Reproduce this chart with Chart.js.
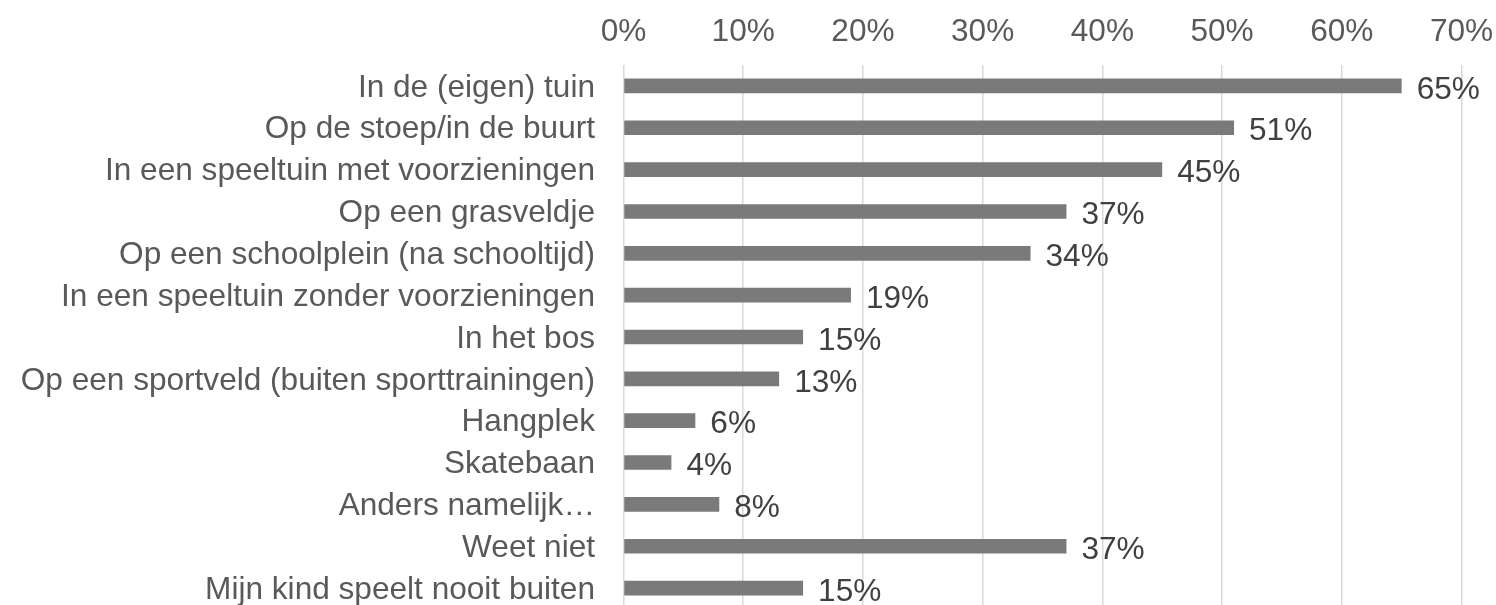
<!DOCTYPE html>
<html>
<head>
<meta charset="utf-8">
<script src="https://cdn.jsdelivr.net/npm/chart.js@4.4.1/dist/chart.umd.min.js"></script>
<style>
html,body{margin:0;padding:0;background:#fff;overflow:hidden;}
#wrap{position:relative;width:1496px;height:609px;}
</style>
</head>
<body>
<div id="wrap"><canvas id="c"></canvas></div>
<script>
const categories = [
  "In de (eigen) tuin",
  "Op de stoep/in de buurt",
  "In een speeltuin met voorzieningen",
  "Op een grasveldje",
  "Op een schoolplein (na schooltijd)",
  "In een speeltuin zonder voorzieningen",
  "In het bos",
  "Op een sportveld (buiten sporttrainingen)",
  "Hangplek",
  "Skatebaan",
  "Anders namelijk\u2026",
  "Weet niet",
  "Mijn kind speelt nooit buiten"
];
const values = [65, 51, 45, 37, 34, 19, 15, 13, 6, 4, 8, 37, 15];
const tickValues = [0, 10, 20, 30, 40, 50, 60, 70];

const FONT = "'Liberation Sans', Arial, sans-serif";
const FS = 31.6;

const dataLabels = {
  id: 'dataLabels',
  afterDatasetsDraw(chart) {
    const ctx = chart.ctx;
    const meta = chart.getDatasetMeta(0);
    ctx.save();
    ctx.font = FS + "px " + FONT;
    ctx.fillStyle = '#404040';
    ctx.textAlign = 'left';
    ctx.textBaseline = 'middle';
    meta.data.forEach((bar, i) => {
      ctx.fillText(values[i] + '%', bar.x + 15, bar.y + 4);
    });
    ctx.restore();
  }
};

new Chart(document.getElementById('c'), {
  type: 'bar',
  data: {
    labels: categories,
    datasets: [{
      data: values,
      backgroundColor: '#7a7a7a',
      borderWidth: 0,
      barPercentage: 0.35,
      categoryPercentage: 1
    }]
  },
  options: {
    indexAxis: 'y',
    responsive: true,
    maintainAspectRatio: false,
    animation: false,
    layout: { padding: { left: 0, right: 34.5, top: 0, bottom: 0 } },
    plugins: { legend: { display: false }, tooltip: { enabled: false } },
    scales: {
      x: {
        position: 'top',
        min: 0,
        max: 70,
        afterBuildTicks(scale) { scale.ticks = tickValues.map(v => ({ value: v })); },
        afterFit(scale) { scale.height = 65; scale.paddingLeft = 0; scale.paddingRight = 0; },
        grid: { color: '#d9d9d9', lineWidth: 1.5, drawTicks: false },
        border: { display: false },
        ticks: {
          padding: 14,
          color: '#595959',
          font: { family: FONT, size: FS },
          callback: v => v + '%',
          maxRotation: 0
        }
      },
      y: {
        afterFit(scale) { scale.width = 623.5; scale.paddingTop = 0; scale.paddingBottom = 0; },
        grid: { display: false, drawTicks: false },
        border: { display: false },
        ticks: {
          padding: 28.5,
          labelOffset: 2,
          color: '#595959',
          font: { family: FONT, size: FS },
          autoSkip: false
        }
      }
    }
  },
  plugins: [dataLabels]
});
</script>
</body>
</html>
